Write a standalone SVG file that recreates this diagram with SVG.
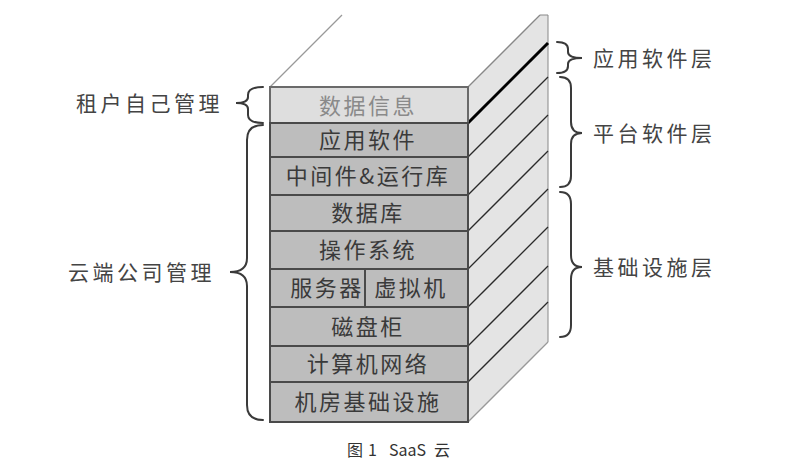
<svg xmlns="http://www.w3.org/2000/svg" width="788" height="463" viewBox="0 0 788 463">
<style>
.lay{fill:#bdbdbd;stroke:#4a4a4a;stroke-width:2}
.top{fill:#dedede;stroke:#6a6a6a;stroke-width:2}
.t{font-family:"Noto Sans CJK SC","Noto Sans",sans-serif;font-size:22px;fill:#3a3a3a;text-anchor:middle;letter-spacing:2.5px}
.tl{fill:#8a8a8a}
.lbl{font-family:"Noto Sans CJK SC","Noto Sans",sans-serif;font-size:21px;fill:#444;letter-spacing:3.5px}
.br{fill:none;stroke:#3a3a3a;stroke-width:2;stroke-linecap:round}
.d{stroke:#2a2a2a;stroke-width:1.3;fill:none}
.cap{font-family:"Noto Sans CJK SC","Noto Sans",sans-serif;font-size:16px;fill:#333}
</style>
<rect width="788" height="463" fill="#fff"/>
<g id="prism">
  <line x1="270" y1="87" x2="342" y2="15" stroke="#999" stroke-width="1.2"/>
  <polygon points="468,87 540,15 548,15 548,342 468,422" fill="#e4e4e4" stroke="#888" stroke-width="1"/>
  <line class="d" x1="468" y1="87" x2="540" y2="15" style="stroke:#888"/>
  <line class="d" x1="468" y1="157" x2="548" y2="77"/>
  <line class="d" x1="468" y1="195" x2="548" y2="115"/>
  <line class="d" x1="468" y1="231" x2="548" y2="151"/>
  <line class="d" x1="468" y1="269" x2="548" y2="189"/>
  <line class="d" x1="468" y1="307" x2="548" y2="227"/>
  <line class="d" x1="468" y1="346" x2="548" y2="266"/>
  <line class="d" x1="468" y1="382" x2="548" y2="302"/>
  <line class="d" x1="468" y1="422" x2="548" y2="342" style="stroke:#999"/>
  <line x1="468" y1="123" x2="548" y2="43" stroke="#000" stroke-width="3"/>
</g>
<g id="n-data"><rect class="top" x="270" y="87" width="198" height="36"/><text class="t tl" x="368" y="114">数据信息</text></g>
<g id="n-app"><rect class="lay" x="270" y="123" width="198" height="34"/><text class="t" x="368" y="148">应用软件</text></g>
<g id="n-mid"><rect class="lay" x="270" y="157" width="198" height="38"/><text class="t" x="368" y="184">中间件&amp;运行库</text></g>
<g id="n-db"><rect class="lay" x="270" y="195" width="198" height="36"/><text class="t" x="368" y="221">数据库</text></g>
<g id="n-os"><rect class="lay" x="270" y="231" width="198" height="38"/><text class="t" x="368" y="258">操作系统</text></g>
<g id="n-srv"><rect class="lay" x="270" y="269" width="95" height="38"/><text class="t" x="327" y="296">服务器</text></g>
<g id="n-vm"><rect class="lay" x="365" y="269" width="103" height="38"/><text class="t" x="411" y="296">虚拟机</text></g>
<g id="n-disk"><rect class="lay" x="270" y="307" width="198" height="39"/><text class="t" x="368" y="335">磁盘柜</text></g>
<g id="n-net"><rect class="lay" x="270" y="346" width="198" height="36"/><text class="t" x="368" y="372">计算机网络</text></g>
<g id="n-room"><rect class="lay" x="270" y="382" width="198" height="40"/><text class="t" x="368" y="410">机房基础设施</text></g>
<g id="connectors">
  <path class="br" d="M263,87 Q248,87 248,95 L248,97 Q248,103 236,103 Q248,103 248,109 L248,115 Q248,123 263,123"/>
  <path class="br" d="M263,125 Q247,125 247,140 L247,258 Q247,272 230,272 Q247,272 247,286 L247,405 Q247,420 263,420"/>
  <path class="br" d="M557,42 Q568,42 568,49 L568,52 Q568,58 582,58 Q568,58 568,64 L568,66 Q568,73 557,73"/>
  <path class="br" d="M560,77 Q571,77 571,88 L571,122 Q571,133 582,133 Q571,133 571,144 L571,176 Q571,187 560,187"/>
  <path class="br" d="M560,192 Q571,192 571,204 L571,255 Q571,267 582,267 Q571,267 571,279 L571,325 Q571,337 560,337"/>
</g>
<g id="labels">
  <text class="lbl" x="76" y="111">租户自己管理</text>
  <text class="lbl" x="68" y="280">云端公司管理</text>
  <text class="lbl" x="593" y="66">应用软件层</text>
  <text class="lbl" x="593" y="141">平台软件层</text>
  <text class="lbl" x="593" y="275">基础设施层</text>
  <text class="cap" y="456"><tspan x="347">图</tspan><tspan x="368">1</tspan><tspan x="389">SaaS</tspan><tspan x="434">云</tspan></text>
</g>
</svg>
